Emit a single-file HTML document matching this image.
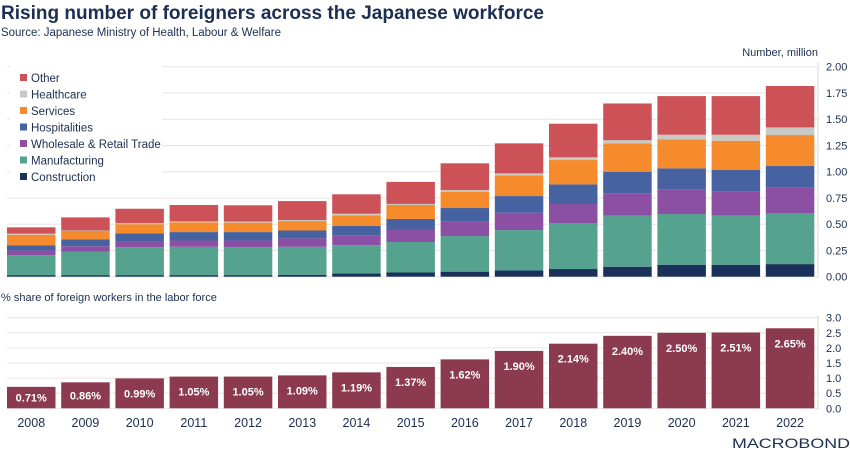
<!DOCTYPE html>
<html><head><meta charset="utf-8"><style>
body{margin:0;background:#fff;}
svg{display:block;font-family:"Liberation Sans",sans-serif;}
</style></head><body>
<svg id="c" width="850" height="453" viewBox="0 0 850 453">
<text x="1" y="19" font-size="19" font-weight="bold" fill="#1c2e52" textLength="543" lengthAdjust="spacingAndGlyphs">Rising number of foreigners across the Japanese workforce</text>
<text x="1" y="36" font-size="11.5" fill="#1c2e52" textLength="280" lengthAdjust="spacingAndGlyphs">Source: Japanese Ministry of Health, Labour &amp; Welfare</text>
<text x="818" y="56" font-size="11" fill="#1c2e52" text-anchor="end">Number, million</text>
<text x="1" y="301" font-size="11" fill="#1c2e52">% share of foreign workers in the labor force</text>
<g id="topChart"></g>
<g id="botChart"></g>
<g id="legend"></g>
<text x="850" y="448" font-size="14" fill="#1c2e52" text-anchor="end" textLength="118" lengthAdjust="spacingAndGlyphs">MACROBOND</text>
</svg>
<script>
const years=["2008","2009","2010","2011","2012","2013","2014","2015","2016","2017","2018","2019","2020","2021","2022"];
const seriesNames=["Construction","Manufacturing","Wholesale & Retail Trade","Hospitalities","Services","Healthcare","Other"];
const construction=[0.015,0.015,0.015,0.015,0.015,0.018,0.03,0.04,0.048,0.06,0.073,0.095,0.114,0.114,0.12];
const manufacturing=[0.19,0.225,0.265,0.27,0.265,0.267,0.27,0.29,0.339,0.384,0.435,0.486,0.483,0.467,0.483];
const wholesale=[0.045,0.05,0.06,0.06,0.065,0.08,0.09,0.115,0.137,0.166,0.184,0.213,0.235,0.229,0.245];
const hospitalities=[0.05,0.065,0.073,0.08,0.08,0.075,0.095,0.105,0.13,0.158,0.187,0.206,0.2,0.206,0.206];
const services=[0.10,0.08,0.087,0.093,0.09,0.09,0.10,0.133,0.156,0.197,0.232,0.27,0.276,0.279,0.295];
const healthcare=[0.01,0.005,0.01,0.009,0.01,0.01,0.015,0.01,0.015,0.019,0.026,0.03,0.044,0.057,0.073];
const other=[0.06,0.125,0.137,0.156,0.155,0.18,0.185,0.21,0.255,0.286,0.32,0.35,0.368,0.368,0.394];
const topTicks=["0.00","0.25","0.50","0.75","1.00","1.25","1.50","1.75","2.00"];
const share=[0.71,0.86,0.99,1.05,1.05,1.09,1.19,1.37,1.62,1.90,2.14,2.40,2.50,2.51,2.65];
const botTicks=["0.0","0.5","1.0","1.5","2.0","2.5","3.0"];

const NS="http://www.w3.org/2000/svg";
const colors=["#1b3159","#55a28f","#8b4fa3","#4762a0","#f58b2c","#c8c8c4","#cd5257"];
const stacks=[construction,manufacturing,wholesale,hospitalities,services,healthcare,other];
function mk(p,t,a){const e=document.createElementNS(NS,t);for(const k in a)e.setAttribute(k,a[k]);p.appendChild(e);return e;}
const x0=7,pitch=54.2,bw=48.5,axisX=818;
const xBand=i=>x0+i*pitch;
const yTop=v=>276.7-v*105;
const yBot=v=>408.3-v*30.2;
const gTop=document.getElementById('topChart'),gBot=document.getElementById('botChart'),gLeg=document.getElementById('legend');
topTicks.forEach(t=>{const v=parseFloat(t);
 const l=mk(gTop,'line',{x1:7,x2:axisX,y1:yTop(v),y2:yTop(v),stroke:'#e6e6e6','stroke-width':1});
 
 
 const tx=mk(gTop,'text',{x:826,y:yTop(v)+4,'font-size':11,fill:'#1c2e52'});tx.textContent=t;
 
 
});
const ta=mk(gTop,'line',{x1:axisX,x2:axisX,y1:62,y2:278,stroke:'#d8d8d8'});


years.forEach((y,i)=>{let cum=0;
 stacks.forEach((s,k)=>{const a=cum;cum+=s[i];
  const r=mk(gTop,'rect',{x:xBand(i),y:yTop(cum),width:bw,height:yTop(a)-yTop(cum),fill:colors[k]});
  
  
 });
});
botTicks.forEach(t=>{const v=parseFloat(t);
 const l=mk(gBot,'line',{x1:7,x2:axisX,y1:yBot(v),y2:yBot(v),stroke:'#e6e6e6'});
 
 
 const tx=mk(gBot,'text',{x:826,y:yBot(v)+4,'font-size':11,fill:'#1c2e52'});tx.textContent=t;
 
 
});
const ba=mk(gBot,'line',{x1:axisX,x2:axisX,y1:315,y2:410,stroke:'#d8d8d8'});


years.forEach((y,i)=>{const v=share[i];
 const r=mk(gBot,'rect',{x:xBand(i),y:yBot(v),width:bw,height:yBot(0)-yBot(v),fill:'#8c3a50'});
 
 
 const h=yBot(0)-yBot(v);
 const lt=mk(gBot,'text',{x:xBand(i)+bw/2,y:yBot(v)+Math.min(15,h/2)+4,'font-size':11,'font-weight':'bold',fill:'#fff','text-anchor':'middle'});
 lt.textContent=v.toFixed(2)+'%';
 
 
 const yl=mk(gBot,'text',{x:xBand(i)+bw/2,y:427,'font-size':12.5,fill:'#1c2e52','text-anchor':'middle'});
 yl.textContent=y;
 
 
});
mk(gLeg,'rect',{x:10,y:66,width:152,height:120,fill:'#fff'});
const order=[6,5,4,3,2,1,0];
order.forEach((k,j)=>{const yy=78+j*16.5;
 const sq=mk(gLeg,'rect',{x:20,y:yy-4,width:7,height:7,fill:colors[k]});
 
 
 const tx=mk(gLeg,'text',{x:31,y:yy+4,'font-size':11.5,fill:'#1c2e52'});tx.textContent=seriesNames[k];
 
 
});
</script>
</body></html>
